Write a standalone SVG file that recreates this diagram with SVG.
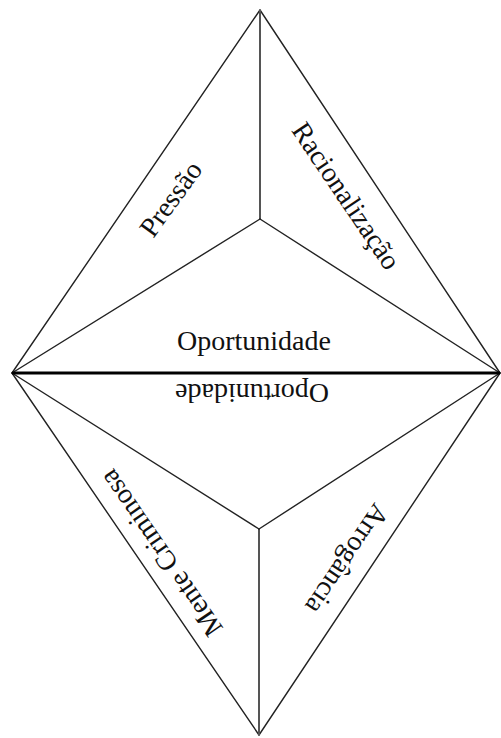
<svg xmlns="http://www.w3.org/2000/svg" width="501" height="738" viewBox="0 0 501 738">
<style>
.e{stroke:#222;stroke-width:1.4;fill:none;stroke-linecap:round}
.v{stroke:#555;stroke-width:2;fill:none}
.h{stroke:#000;stroke-width:3;fill:none}
text{font-family:"Liberation Serif","Times New Roman",serif;font-size:28px;fill:#111;text-anchor:middle}
</style>
<rect width="501" height="738" fill="#fff"/>
<g id="connectors">
<line class="e" x1="12" y1="373" x2="260" y2="10"/>
<line class="e" x1="260" y1="10" x2="500" y2="373"/>
<line class="v" x1="260" y1="10" x2="260" y2="219"/>
<line class="e" x1="260" y1="219" x2="12" y2="373"/>
<line class="e" x1="260" y1="219" x2="500" y2="373"/>
<line class="e" x1="12" y1="373" x2="259" y2="735"/>
<line class="e" x1="259" y1="735" x2="500" y2="373"/>
<line class="v" x1="259" y1="529" x2="259" y2="735"/>
<line class="e" x1="259" y1="529" x2="12" y2="373"/>
<line class="e" x1="259" y1="529" x2="500" y2="373"/>
<line class="h" x1="12" y1="373" x2="500" y2="373"/>
</g>
<g id="pressao"><text transform="translate(171,199) rotate(-54)" dy="9">Pressão</text></g>
<g id="racionalizacao"><text transform="translate(346,196) rotate(56)" dy="9">Racionalização</text></g>
<g id="oportunidade"><text x="254" y="350">Oportunidade</text></g>
<g id="oportunidade-inv"><text transform="translate(252,384) rotate(180)">Oportunidade</text></g>
<g id="mente-criminosa"><text transform="translate(161,553) rotate(235.5)" dy="9">Mente Criminosa</text></g>
<g id="arrogancia"><text transform="translate(347,559) rotate(124)" dy="9">Arrogância</text></g>
</svg>
